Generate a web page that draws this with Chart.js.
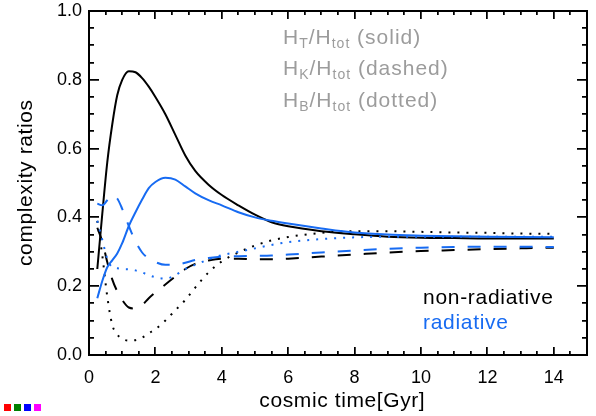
<!DOCTYPE html>
<html>
<head>
<meta charset="utf-8">
<script src="https://cdn.jsdelivr.net/npm/chart.js@4"></script>
</head>
<body style="margin:0;background:#fff">
<canvas id="complexity" width="596" height="416"></canvas>
<script>
const fontFamily = '"Liberation Sans", Arial, Helvetica, sans-serif';
const blue = "#176bf2";
const grey = "#9c9c9c";

// cosmic time [Gyr], shared by all six curves
const time = [0.25, 0.4, 0.55, 0.7, 0.85, 1.0, 1.2, 1.4, 1.6, 1.8, 2.0, 2.3, 2.6, 2.9,
  3.2, 3.6, 4.0, 4.5, 5.0, 5.5, 6.0, 7.0, 8.0, 9.0, 10.0, 11.0, 12.0, 13.0, 14.0];

// non-radiative run (black)
const nonRadT = [0.25, 0.41, 0.56, 0.67, 0.755, 0.80, 0.825, 0.822, 0.805, 0.78, 0.75, 0.70, 0.64, 0.58,
  0.535, 0.495, 0.465, 0.435, 0.408, 0.386, 0.374, 0.36, 0.351, 0.344, 0.341, 0.34, 0.339, 0.339, 0.339];
const nonRadK = [0.37, 0.33, 0.27, 0.22, 0.185, 0.16, 0.138, 0.135, 0.145, 0.165, 0.182, 0.205, 0.228, 0.25,
  0.265, 0.275, 0.28, 0.28, 0.278, 0.278, 0.28, 0.286, 0.292, 0.298, 0.302, 0.305, 0.308, 0.31, 0.312];
const nonRadB = [0.39, 0.29, 0.17, 0.088, 0.06, 0.047, 0.042, 0.043, 0.05, 0.063, 0.075, 0.1, 0.13, 0.16,
  0.196, 0.24, 0.272, 0.298, 0.318, 0.333, 0.343, 0.355, 0.36, 0.36, 0.358, 0.356, 0.355, 0.353, 0.352];

// radiative run (blue)
const radT = [0.165, 0.215, 0.255, 0.275, 0.295, 0.325, 0.375, 0.415, 0.452, 0.485, 0.503, 0.515, 0.51, 0.49,
  0.47, 0.45, 0.435, 0.415, 0.40, 0.39, 0.382, 0.368, 0.356, 0.35, 0.347, 0.345, 0.344, 0.343, 0.342];
const radK = [0.44, 0.435, 0.45, 0.465, 0.455, 0.425, 0.375, 0.33, 0.298, 0.28, 0.27, 0.262, 0.262, 0.268,
  0.276, 0.282, 0.286, 0.287, 0.288, 0.289, 0.292, 0.298, 0.304, 0.309, 0.312, 0.314, 0.315, 0.315, 0.314];
const radB = [0.39, 0.335, 0.28, 0.255, 0.252, 0.25, 0.249, 0.246, 0.24, 0.232, 0.226, 0.222, 0.232, 0.25,
  0.262, 0.278, 0.29, 0.3, 0.31, 0.32, 0.328, 0.337, 0.342, 0.344, 0.344, 0.344, 0.344, 0.344, 0.344];

const xTickValues = [0, 2, 4, 6, 8, 10, 12, 14];
const yTickValues = [0, 0.2, 0.4, 0.6, 0.8, 1.0];
const xMinorStep = 0.5;
const yMinorStep = 0.05;

const dashed = [13, 13];
const dotted = [2, 7];

function series(values, color, dash) {
  return {
    data: time.map((t, i) => ({ x: t, y: values[i] })),
    borderColor: color,
    borderWidth: 2,
    borderDash: dash,
    pointRadius: 0,
    fill: false,
    cubicInterpolationMode: "monotone",
  };
}

function drawFrame(chart) {
  const c = chart.ctx;
  const a = chart.chartArea;
  const x = chart.scales.x;
  const y = chart.scales.y;
  const L = Math.round(a.left), R = Math.round(a.right);
  const T = Math.round(a.top), B = Math.round(a.bottom);
  c.save();
  c.fillStyle = "#000";
  c.fillRect(L - 1, T - 1, R - L + 2, 2);
  c.fillRect(L - 1, B - 1, R - L + 2, 2);
  c.fillRect(L - 1, T - 1, 2, B - T + 2);
  c.fillRect(R - 1, T - 1, 2, B - T + 2);
  for (let i = 0; i * xMinorStep <= x.max - x.min + 1e-9; i++) {
    const v = x.min + i * xMinorStep;
    const px = Math.round(x.getPixelForValue(v));
    const len = xTickValues.some((t) => Math.abs(t - v) < 1e-6) ? 8 : 4;
    c.fillRect(px - 1, B - len, 1.5, len);
    c.fillRect(px - 1, T, 1.5, len);
  }
  for (let i = 0; i * yMinorStep <= y.max - y.min + 1e-9; i++) {
    const v = y.min + i * yMinorStep;
    const py = Math.round(y.getPixelForValue(v));
    const len = yTickValues.some((t) => Math.abs(t - v) < 1e-6) ? 10 : 5;
    c.fillRect(L, py - 1, len, 1.5);
    c.fillRect(R - len, py - 1, len, 1.5);
  }
  c.restore();
}

// letter-spaced text drawn glyph by glyph
function spacedWidth(c, str, gap) {
  let w = 0;
  for (const ch of str) w += c.measureText(ch).width + gap;
  return w - gap;
}
function spaced(c, str, x, y, gap) {
  let cx = x;
  for (const ch of str) {
    c.fillText(ch, cx, y);
    cx += c.measureText(ch).width + gap;
  }
  return cx;
}

function drawTexts(chart) {
  const c = chart.ctx;
  const big = "21px " + fontFamily;
  const small = "14px " + fontFamily;
  c.save();
  c.font = big;
  c.fillStyle = "#000";
  c.textAlign = "left";
  c.textBaseline = "alphabetic";

  const xt = "cosmic time[Gyr]";
  spaced(c, xt, 342 - spacedWidth(c, xt, 0.6) / 2, 407, 0.6);

  const yt = "complexity ratios";
  c.save();
  c.translate(26, 183);
  c.rotate(-Math.PI / 2);
  c.textBaseline = "middle";
  spaced(c, yt, -spacedWidth(c, yt, 0.6) / 2, 0, 0.6);
  c.restore();

  c.fillStyle = grey;
  const legendRows = [["T", "(solid)"], ["K", "(dashed)"], ["B", "(dotted)"]];
  legendRows.forEach(([sub, style], i) => {
    const base = 43.5 + i * 31.7;
    let cx = 283;
    const put = (txt, font, dy) => {
      c.font = font;
      cx = spaced(c, txt, cx, base + dy, 1.0);
    };
    put("H", big, 0);
    put(sub, small, 4);
    put("/H", big, 0);
    put("tot", small, 4);
    put(" " + style, big, 0);
  });

  c.font = big;
  c.fillStyle = "#000";
  spaced(c, "non-radiative", 423, 303.5, 0.7);
  c.fillStyle = blue;
  spaced(c, "radiative", 423, 328.5, 0.7);
  c.restore();
}

// small probe squares in the bottom-left corner, one per hook
function probe(chart, i, color) {
  const c = chart.ctx;
  c.save();
  c.fillStyle = color;
  c.fillRect(4 + i * 10, 404, 7, 7);
  c.restore();
}

const decorations = {
  id: "decorations",
  beforeDraw(chart) { probe(chart, 0, "red"); },
  beforeDatasetsDraw(chart) { probe(chart, 1, "green"); drawFrame(chart); },
  afterDatasetsDraw(chart) { probe(chart, 2, "blue"); },
  afterDraw(chart) {
    probe(chart, 3, "magenta");
    drawFrame(chart);
    drawTexts(chart);
  },
};

const canvas = document.getElementById("complexity");
const complexityChart = new Chart(canvas, {
  type: "line",
  data: {
    datasets: [
      series(radT, blue, []),
      series(radK, blue, dashed),
      series(radB, blue, dotted),
      series(nonRadT, "#000", []),
      series(nonRadK, "#000", dashed),
      series(nonRadB, "#000", dotted),
    ],
  },
  options: {
    responsive: false,
    devicePixelRatio: 1,
    animation: false,
    layout: { padding: { top: 11, right: 9, left: 0, bottom: 0 } },
    scales: {
      x: {
        type: "linear",
        min: 0,
        max: 15,
        afterBuildTicks: (s) => { s.ticks = xTickValues.map((value) => ({ value })); },
        afterFit: (s) => { s.height = 61; s.paddingLeft = 0; s.paddingRight = 0; },
        grid: { display: false, drawTicks: false },
        border: { display: true, color: "#000", width: 2 },
        ticks: {
          color: "#000",
          font: { family: fontFamily, size: 18 },
          padding: 12,
          maxRotation: 0,
          callback: (v) => String(v),
        },
      },
      y: {
        min: 0,
        max: 1,
        afterBuildTicks: (s) => { s.ticks = yTickValues.map((value) => ({ value })); },
        afterFit: (s) => { s.width = 89; s.paddingTop = 0; s.paddingBottom = 0; },
        grid: { display: false, drawTicks: false },
        border: { display: true, color: "#000", width: 2 },
        ticks: {
          color: "#000",
          font: { family: fontFamily, size: 18 },
          padding: 7,
          callback: (v) => v.toFixed(1),
        },
      },
    },
    plugins: {
      legend: { display: false },
      tooltip: { enabled: false },
    },
  },
  plugins: [decorations],
});
</script>
</body>
</html>
